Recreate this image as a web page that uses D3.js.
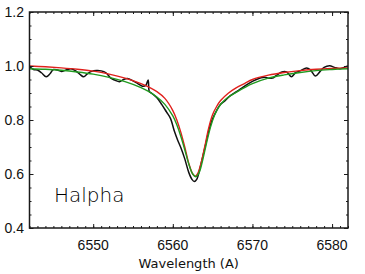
<!DOCTYPE html>
<html>
<head>
<meta charset="utf-8">
<script src="https://cdn.jsdelivr.net/npm/d3@7"></script>
<style>
  body { margin: 0; background: #fff; }
  svg { display: block; }
</style>
</head>
<body>
<div id="chart"></div>
<script>
// Observed spectrum (black)
const obsWave = [6542.0, 6542.5, 6543.0, 6543.5, 6544.1, 6544.6, 6545.0, 6545.5, 6546.0, 6546.6,
  6547.2, 6547.8, 6548.3, 6548.8, 6549.3, 6549.8, 6550.4, 6551.0, 6551.6, 6552.2,
  6552.7, 6553.3, 6553.8, 6554.3, 6555.0, 6555.6, 6556.2, 6556.6, 6556.9, 6557.05,
  6557.3, 6558.0, 6558.6, 6559.2, 6559.7, 6560.2, 6560.6, 6561.0, 6561.5, 6562.0,
  6562.4, 6562.7, 6563.0, 6563.4, 6563.8, 6564.2, 6564.6, 6565.0, 6565.5, 6566.0,
  6566.5, 6567.0, 6568.0, 6568.5, 6569.5, 6570.5, 6571.5, 6572.0, 6572.5, 6573.0,
  6573.7, 6574.3, 6574.9, 6575.4, 6576.0, 6576.8, 6577.3, 6577.9, 6578.5, 6579.0,
  6579.7, 6580.3, 6581.0, 6581.5, 6582.0]
const obsFlux = [0.998, 0.987, 0.985, 0.975, 0.960, 0.972, 0.987, 0.985, 0.980, 0.985,
  0.990, 0.982, 0.970, 0.960, 0.972, 0.980, 0.983, 0.982, 0.975, 0.955,
  0.948, 0.942, 0.950, 0.954, 0.945, 0.935, 0.925, 0.928, 0.948, 0.905,
  0.900, 0.882, 0.858, 0.830, 0.806, 0.758, 0.726, 0.698, 0.656, 0.606,
  0.580, 0.572, 0.580, 0.620, 0.670, 0.720, 0.770, 0.805, 0.835, 0.858,
  0.870, 0.885, 0.905, 0.915, 0.935, 0.950, 0.958, 0.955, 0.955, 0.965,
  0.978, 0.978, 0.960, 0.975, 0.982, 0.993, 0.985, 0.963, 0.980, 0.995,
  1.001, 0.995, 0.990, 0.995, 1.000]

// Model 1 (red)
const redWave = [6542, 6544, 6546, 6548, 6550, 6552, 6554, 6556, 6557, 6558,
  6559, 6560, 6560.5, 6561, 6561.5, 6562, 6562.5, 6562.8, 6563.1, 6563.5,
  6564, 6564.5, 6565, 6565.5, 6566, 6567, 6568, 6569, 6570, 6572,
  6574, 6576, 6578, 6580, 6582]
const redFlux = [1.000, 0.997, 0.993, 0.988, 0.981, 0.970, 0.955, 0.935, 0.922, 0.905,
  0.880, 0.835, 0.800, 0.755, 0.700, 0.640, 0.600, 0.592, 0.600, 0.635,
  0.700, 0.770, 0.820, 0.850, 0.872, 0.900, 0.920, 0.935, 0.950, 0.966,
  0.976, 0.983, 0.988, 0.991, 0.993]

// Model 2 (green)
const greenWave = [6542, 6544, 6546, 6548, 6550, 6552, 6554, 6556, 6557, 6558,
  6559, 6560, 6560.5, 6561, 6561.5, 6562, 6562.5, 6562.9, 6563.3, 6563.7,
  6564.2, 6564.7, 6565.2, 6565.7, 6566.3, 6567, 6568, 6569, 6570, 6572,
  6574, 6576, 6578, 6580, 6582]
const greenFlux = [0.990, 0.988, 0.984, 0.978, 0.970, 0.958, 0.942, 0.920, 0.905, 0.885,
  0.858, 0.815, 0.782, 0.740, 0.690, 0.637, 0.600, 0.590, 0.605, 0.645,
  0.710, 0.770, 0.815, 0.845, 0.868, 0.885, 0.903, 0.920, 0.935, 0.955,
  0.967, 0.976, 0.983, 0.987, 0.990]

const xTicks = [6550, 6560, 6570, 6580]
const yTicks = [0.4, 0.6, 0.8, 1.0, 1.2]

const width = 365
const height = 274
const margin = { top: 12, right: 17, bottom: 46, left: 29.5 }

const svg = d3.select('#chart').append('svg')
  .attr('width', width)
  .attr('height', height)

const x = d3.scaleLinear().domain([6542, 6582]).range([margin.left, width - margin.right])
const y = d3.scaleLinear().domain([0.4, 1.2]).range([height - margin.bottom, margin.top])

const axisColor = '#1a1a1a'
const font = 'Liberation Sans, Arial, sans-serif'

// curves
const line = d3.line()
  .x(d => x(d[0]))
  .y(d => y(d[1]))
  .curve(d3.curveCatmullRom.alpha(0.5))

const series = [
  { w: obsWave, f: obsFlux, color: '#111', sw: 1.5 },
  { w: redWave, f: redFlux, color: '#e0201c', sw: 1.4 },
  { w: greenWave, f: greenFlux, color: '#1f9a1f', sw: 1.4 }
]

svg.append('defs').append('clipPath').attr('id', 'clip')
  .append('rect')
  .attr('x', x.range()[0]).attr('y', y.range()[1])
  .attr('width', x.range()[1] - x.range()[0])
  .attr('height', y.range()[0] - y.range()[1])

const plot = svg.append('g').attr('clip-path', 'url(#clip)')
series.forEach(s => {
  plot.append('path')
    .datum(s.w.map((w, i) => [w, s.f[i]]))
    .attr('fill', 'none')
    .attr('stroke', s.color)
    .attr('stroke-width', s.sw)
    .attr('stroke-linejoin', 'round')
    .attr('d', line)
})

// axes, IDL style: ticks inward on all four sides
const xMinor = d3.range(6542, 6583, 1)
const yMinor = d3.range(0.4, 1.2001, 0.05)

function tickAxis (axisFn, scale, pos, major, minor, sign) {
  svg.append('g')
    .attr('transform', pos)
    .call(axisFn(scale).tickValues(minor).tickSize(sign * 2).tickFormat(''))
    .call(g => g.select('.domain').remove())
    .call(g => g.selectAll('line').attr('stroke', axisColor))
  svg.append('g')
    .attr('transform', pos)
    .call(axisFn(scale).tickValues(major).tickSize(sign * 4).tickFormat(''))
    .call(g => g.select('.domain').remove())
    .call(g => g.selectAll('line').attr('stroke', axisColor))
}

const x0 = x.range()[0]
const x1 = x.range()[1]
const y0 = y.range()[0]
const y1 = y.range()[1]

tickAxis(d3.axisBottom, x, `translate(0,${y0})`, xTicks, xMinor, -1)
tickAxis(d3.axisTop, x, `translate(0,${y1})`, xTicks, xMinor, -1)
tickAxis(d3.axisLeft, y, `translate(${x0},0)`, yTicks, yMinor, -1)
tickAxis(d3.axisRight, y, `translate(${x1},0)`, yTicks, yMinor, -1)

// frame
svg.append('rect')
  .attr('x', x0).attr('y', y1)
  .attr('width', x1 - x0).attr('height', y0 - y1)
  .attr('fill', 'none')
  .attr('stroke', axisColor)
  .attr('stroke-width', 1.5)

// tick labels
svg.append('g').selectAll('text')
  .data(xTicks)
  .join('text')
  .attr('x', d => x(d))
  .attr('y', 250)
  .attr('text-anchor', 'middle')
  .style('font-family', font)
  .style('font-size', '14px')
  .attr('fill', '#111')
  .text(d => d)

svg.append('g').selectAll('text')
  .data(yTicks)
  .join('text')
  .attr('x', 24)
  .attr('y', d => y(d) + 5)
  .attr('text-anchor', 'end')
  .style('font-family', font)
  .style('font-size', '14px')
  .attr('fill', '#111')
  .text(d => d.toFixed(1))

// axis title
svg.append('text')
  .attr('x', (x0 + x1) / 2)
  .attr('y', 268)
  .attr('text-anchor', 'middle')
  .style('font-family', 'DejaVu Sans, sans-serif')
  .style('font-size', '13px')
  .attr('fill', '#111')
  .text('Wavelength (A)')

// line label
svg.append('text')
  .attr('x', 54)
  .attr('y', 202)
  .style('font-family', 'DejaVu Sans, sans-serif')
  .style('font-weight', 200)
  .style('font-size', '20px')
  .attr('fill', '#000')
  .text('Halpha')
</script>
</body>
</html>
